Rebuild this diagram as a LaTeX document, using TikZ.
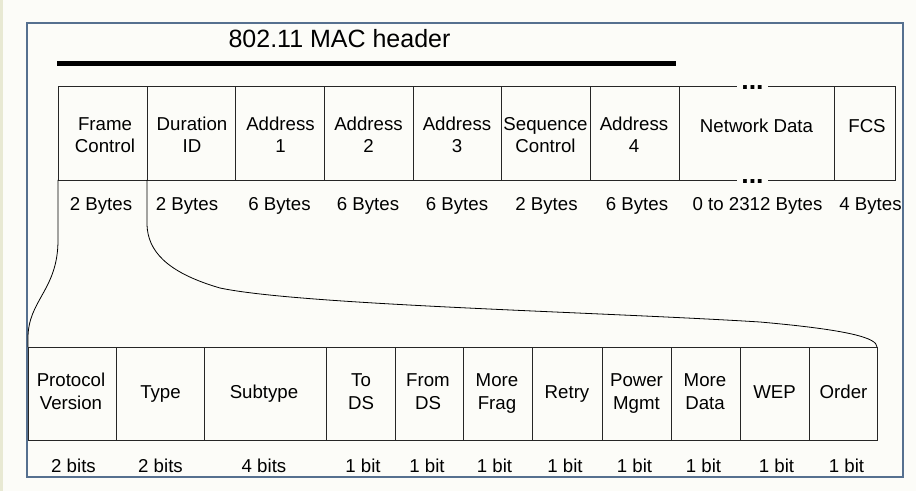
\documentclass[tikz,border=0pt]{standalone}
\usepackage{fontspec}
\setmainfont{Liberation Sans}
\usetikzlibrary{fit}
\definecolor{bgc}{HTML}{FCFCF8}
\definecolor{stripc}{HTML}{E8E9D3}
\definecolor{framec}{HTML}{56708F}
\begin{document}
\begin{tikzpicture}[x=0.75pt,y=-0.75pt,
  fieldbox/.style={draw=black!85, line width=0.7pt, inner sep=0pt, outer sep=0pt},
  lab/.style={font=\fontsize{14}{16.5}\selectfont, align=center, inner sep=0pt},
  labb/.style={font=\fontsize{14}{17.25}\selectfont, align=center, inner sep=0pt},
  size/.style={font=\fontsize{14}{16.5}\selectfont, inner sep=0pt, anchor=base},
  gapdots/.style={font=\fontsize{20}{20}\selectfont\bfseries, fill=bgc, inner xsep=3.2pt, inner ysep=1.2pt},
  bracecurve/.style={line width=0.6pt}]
\useasboundingbox (0,0) rectangle (916,491);
\fill[bgc] (0,0) rectangle (916,491);
\fill[stripc] (0,0) rectangle (3,491);
\node[draw=framec, line width=1pt, inner sep=0pt, fit={(27,23)(903,477)}] (frame) {};

% title and header bar
\node[font=\fontsize{18.75}{20}\selectfont, anchor=base, inner sep=0pt] (title) at (339.5,48) {802.11 MAC header};
\coordinate (hl) at (57,63.5);
\coordinate (hr) at (676,63.5);
\draw[line width=3.75pt] (hl) -- (hr);

% top row boxes
\node[fieldbox, fit={(58,86)(147,180)}] (fc) {};
\node[fieldbox, fit={(147,86)(235,180)}] (dur) {};
\node[fieldbox, fit={(235,86)(324,180)}] (a1) {};
\node[fieldbox, fit={(324,86)(413,180)}] (a2) {};
\node[fieldbox, fit={(413,86)(501,180)}] (a3) {};
\node[fieldbox, fit={(501,86)(590,180)}] (seq) {};
\node[fieldbox, fit={(590,86)(679,180)}] (a4) {};
\node[fieldbox, fit={(679,86)(834,180)}] (nd) {};
\node[fieldbox, fit={(834,86)(895,180)}] (fcs) {};
\node[gapdots] (dtop) at (752.5,87.2) {...};
\node[gapdots] (dbot) at (752.5,181.5) {...};

% top row labels
\node[lab] (fcl) at (105,137.6) {\strut Frame\\\strut Control};
\node[lab] (durl) at (192,137.6) {\strut Duration\\\strut ID};
\node[lab] (a1l) at (280.5,137.6) {\strut Address\\\strut 1};
\node[lab] (a2l) at (368.5,137.6) {\strut Address\\\strut 2};
\node[lab] (a3l) at (457,137.6) {\strut Address\\\strut 3};
\node[lab] (seql) at (545.5,137.6) {\strut Sequence\\\strut Control};
\node[lab] (a4l) at (634,137.6) {\strut Address\\\strut 4};
\node[size] (ndl) at (756.5,133) {Network Data};
\node[size] (fcsl) at (867,133) {FCS};

% byte sizes
\node[size] (s1) at (101,211) {2 Bytes};
\node[size] (s2) at (187,211) {2 Bytes};
\node[size] (s3) at (279.5,211) {6 Bytes};
\node[size] (s4) at (368,211) {6 Bytes};
\node[size] (s5) at (457,211) {6 Bytes};
\node[size] (s6) at (546.5,211) {2 Bytes};
\node[size] (s7) at (637,211) {6 Bytes};
\node[size] (s8) at (757.5,211) {0 to 2312 Bytes};
\node[size] (s9) at (870.5,211) {4 Bytes};

% bottom row boxes
\node[fieldbox, fit={(28,347)(116,440.5)}] (pv) {};
\node[fieldbox, fit={(116,347)(204,440.5)}] (ty) {};
\node[fieldbox, fit={(204,347)(326,440.5)}] (st) {};
\node[fieldbox, fit={(326,347)(395,440.5)}] (tds) {};
\node[fieldbox, fit={(395,347)(463,440.5)}] (fds) {};
\node[fieldbox, fit={(463,347)(532,440.5)}] (mf) {};
\node[fieldbox, fit={(532,347)(602,440.5)}] (rt) {};
\node[fieldbox, fit={(602,347)(671,440.5)}] (pm) {};
\node[fieldbox, fit={(671,347)(740,440.5)}] (md) {};
\node[fieldbox, fit={(740,347)(809,440.5)}] (wep) {};
\node[fieldbox, fit={(809,347)(877,440.5)}] (ord) {};

% bottom row labels
\node[labb] (pvl) at (71,392.9) {\strut Protocol\\\strut Version};
\node[size] (tyl) at (160.5,398) {Type};
\node[size] (stl) at (264,398) {Subtype};
\node[labb] (tdsl) at (361,392.9) {\strut To\\\strut DS};
\node[labb] (fdsl) at (428,392.9) {\strut From\\\strut DS};
\node[labb] (mfl) at (497,392.9) {\strut More\\\strut Frag};
\node[size] (rtl) at (567,398) {Retry};
\node[labb] (pml) at (636.5,392.9) {\strut Power\\\strut Mgmt};
\node[labb] (mdl) at (705,392.9) {\strut More\\\strut Data};
\node[size] (wepl) at (774.5,398) {WEP};
\node[size] (ordl) at (843.5,398) {Order};

% bit sizes
\node[size] (b1) at (73.5,472.5) {2 bits};
\node[size] (b2) at (160.5,472.5) {2 bits};
\node[size] (b3) at (264,472.5) {4 bits};
\node[size] (b4) at (363,472.5) {1 bit};
\node[size] (b5) at (427,472.5) {1 bit};
\node[size] (b6) at (494.5,472.5) {1 bit};
\node[size] (b7) at (565,472.5) {1 bit};
\node[size] (b8) at (634.5,472.5) {1 bit};
\node[size] (b9) at (703.5,472.5) {1 bit};
\node[size] (b10) at (776.5,472.5) {1 bit};
\node[size] (b11) at (846.5,472.5) {1 bit};

% expansion curves
\coordinate (l1) at (58,240);
\coordinate (l2) at (28,338);
\draw[bracecurve] (fc.south west) -- (l1) .. controls (58,290) and (28,300) .. (l2) -- (pv.north west);
\coordinate (r1) at (147,225);
\coordinate (r2) at (220,288);
\coordinate (r3) at (760,322);
\draw[bracecurve] (fc.south east) -- (r1) .. controls (148,250) and (165,272) .. (r2)
  .. controls (300,305) and (600,312) .. (r3) .. controls (850,330) and (877,338) .. (ord.north east);
\end{tikzpicture}
\end{document}
